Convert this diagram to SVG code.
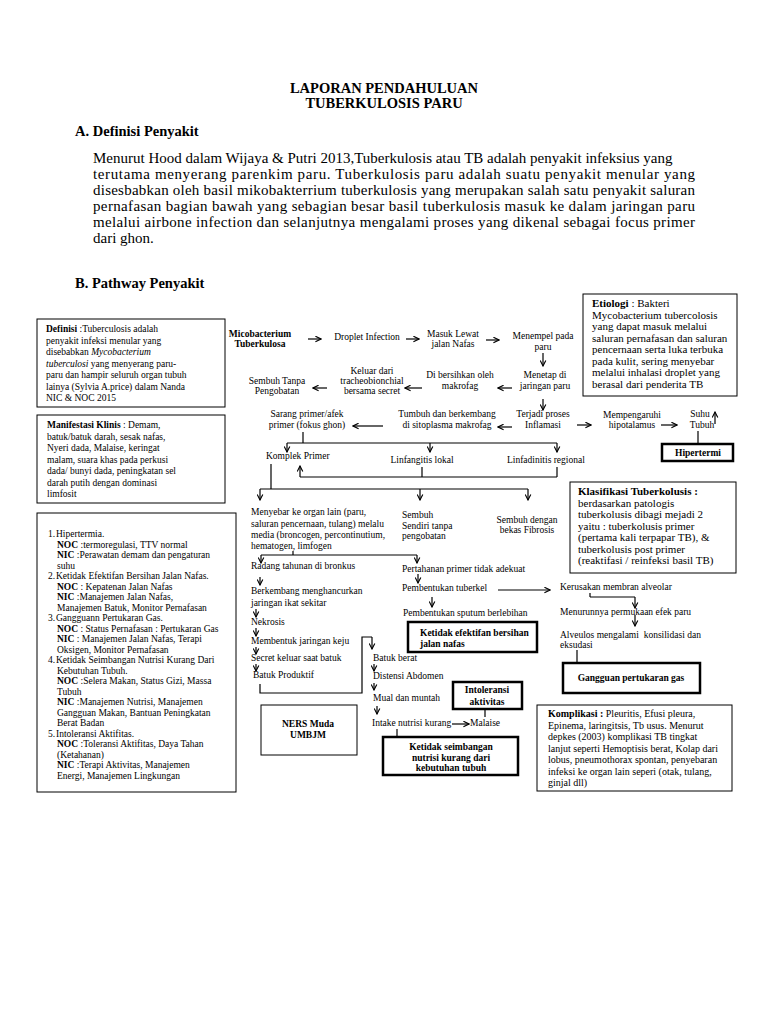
<svg xmlns="http://www.w3.org/2000/svg" width="768" height="1024" viewBox="0 0 768 1024">
<style>
text{font-family:"Liberation Serif","Times New Roman",serif;fill:#000}
.h{font-size:14.5px;font-weight:bold}
.p{font-size:15px}
.t{font-size:9.5px}
.r{font-size:10px}
.e{font-size:11px}
.m{text-anchor:middle}
.b{font-weight:bold}
.i{font-style:italic}
.box{fill:#fff;stroke:#000;stroke-width:1}
.tb{fill:#fff;stroke:#000;stroke-width:2.5}
.ln{fill:none;stroke:#000;stroke-width:1.2}
</style>
<defs>
<marker id="ah" viewBox="0 0 10 10" refX="9" refY="5" markerWidth="7" markerHeight="7" markerUnits="userSpaceOnUse" orient="auto">
<path d="M1,1 L9,5 L1,9" fill="none" stroke="#000" stroke-width="1.6"/>
</marker>
</defs>
<rect width="768" height="1024" fill="#fff"/>

<g id="header">
<text class="h m" x="384" y="93">LAPORAN PENDAHULUAN</text>
<text class="h m" x="384" y="108">TUBERKULOSIS PARU</text>
<text class="h" x="75" y="136">A. Definisi Penyakit</text>
<text class="p" x="93" y="163">Menurut Hood dalam Wijaya &amp; Putri 2013,Tuberkulosis atau TB adalah penyakit infeksius yang</text>
<text class="p" x="93" y="179" textLength="602" lengthAdjust="spacing">terutama menyerang parenkim paru. Tuberkulosis paru adalah suatu penyakit menular yang</text>
<text class="p" x="93" y="195" textLength="602" lengthAdjust="spacing">disesbabkan oleh basil mikobakterrium tuberkulosis yang merupakan salah satu penyakit saluran</text>
<text class="p" x="93" y="211" textLength="602" lengthAdjust="spacing">pernafasan bagian bawah yang sebagian besar basil tuberkulosis masuk ke dalam jaringan paru</text>
<text class="p" x="93" y="227" textLength="602" lengthAdjust="spacing">melalui airbone infection dan selanjutnya mengalami proses yang dikenal sebagai focus primer</text>
<text class="p" x="93" y="243">dari ghon.</text>
<text class="h" x="75" y="288">B. Pathway Penyakit</text>
</g>

<g id="connectors">
<line class="ln" x1="308" y1="339" x2="321" y2="339" marker-end="url(#ah)"/>
<line class="ln" x1="406" y1="339" x2="419" y2="339" marker-end="url(#ah)"/>
<line class="ln" x1="486" y1="340" x2="499" y2="340" marker-end="url(#ah)"/>
<line class="ln" x1="543" y1="353" x2="543" y2="366" marker-end="url(#ah)"/>
<line class="ln" x1="512" y1="388" x2="498" y2="388" marker-end="url(#ah)"/>
<line class="ln" x1="422" y1="388" x2="405" y2="388" marker-end="url(#ah)"/>
<line class="ln" x1="327" y1="388" x2="313" y2="388" marker-end="url(#ah)"/>
<line class="ln" x1="543" y1="399" x2="543" y2="410" marker-end="url(#ah)"/>
<line class="ln" x1="512" y1="427" x2="498" y2="427" marker-end="url(#ah)"/>
<line class="ln" x1="383" y1="426" x2="353" y2="426" marker-end="url(#ah)"/>
<line class="ln" x1="577" y1="425" x2="591" y2="425" marker-end="url(#ah)"/>
<line class="ln" x1="661" y1="425" x2="677" y2="425" marker-end="url(#ah)"/>
<line class="ln" x1="715" y1="424" x2="715" y2="412" marker-end="url(#ah)"/>
<line class="ln" x1="698" y1="431" x2="698" y2="444"/>
<line class="ln" x1="303" y1="432" x2="303" y2="443"/>
<line class="ln" x1="287" y1="443" x2="557" y2="443"/>
<line class="ln" x1="287" y1="443" x2="287" y2="452" marker-end="url(#ah)"/>
<line class="ln" x1="430" y1="443" x2="430" y2="452" marker-end="url(#ah)"/>
<line class="ln" x1="557" y1="443" x2="557" y2="452" marker-end="url(#ah)"/>
<line class="ln" x1="422" y1="467" x2="422" y2="477"/>
<line class="ln" x1="557" y1="467" x2="557" y2="477"/>
<line class="ln" x1="300" y1="477" x2="557" y2="477"/>
<line class="ln" x1="300" y1="477" x2="300" y2="466" marker-end="url(#ah)"/>
<line class="ln" x1="271" y1="464" x2="271" y2="489"/>
<line class="ln" x1="260" y1="489" x2="528" y2="489"/>
<line class="ln" x1="260" y1="489" x2="260" y2="500" marker-end="url(#ah)"/>
<line class="ln" x1="420" y1="489" x2="420" y2="500" marker-end="url(#ah)"/>
<line class="ln" x1="528" y1="489" x2="528" y2="500" marker-end="url(#ah)"/>
<line class="ln" x1="293" y1="551" x2="293" y2="555"/>
<line class="ln" x1="261" y1="555" x2="417" y2="555"/>
<line class="ln" x1="261" y1="555" x2="261" y2="563" marker-end="url(#ah)"/>
<line class="ln" x1="417" y1="555" x2="417" y2="563" marker-end="url(#ah)"/>
<line class="ln" x1="260" y1="577" x2="260" y2="585" marker-end="url(#ah)"/>
<line class="ln" x1="418" y1="574" x2="418" y2="583" marker-end="url(#ah)"/>
<line class="ln" x1="498" y1="590" x2="550" y2="590" marker-end="url(#ah)"/>
<line class="ln" x1="432" y1="597" x2="432" y2="607" marker-end="url(#ah)"/>
<line class="ln" x1="590" y1="593" x2="590" y2="597"/>
<line class="ln" x1="590" y1="597" x2="635" y2="597"/>
<line class="ln" x1="635" y1="597" x2="635" y2="608" marker-end="url(#ah)"/>
<line class="ln" x1="635" y1="615" x2="635" y2="626" marker-end="url(#ah)"/>
<line class="ln" x1="577" y1="650" x2="577" y2="663"/>
<line class="ln" x1="256" y1="609" x2="256" y2="617" marker-end="url(#ah)"/>
<line class="ln" x1="256" y1="628" x2="256" y2="636" marker-end="url(#ah)"/>
<line class="ln" x1="256" y1="647" x2="256" y2="654" marker-end="url(#ah)"/>
<line class="ln" x1="256" y1="664" x2="256" y2="671" marker-end="url(#ah)"/>
<polyline class="ln" points="260,684 260,693 362,693 362,637 372,637"/>
<line class="ln" x1="372" y1="637" x2="372" y2="649" marker-end="url(#ah)"/>
<line class="ln" x1="374" y1="664" x2="374" y2="671" marker-end="url(#ah)"/>
<line class="ln" x1="374" y1="683" x2="374" y2="690" marker-end="url(#ah)"/>
<line class="ln" x1="377" y1="706" x2="377" y2="714" marker-end="url(#ah)"/>
<line class="ln" x1="452" y1="724" x2="469" y2="724" marker-end="url(#ah)"/>
<line class="ln" x1="397" y1="729" x2="397" y2="737"/>
<line class="ln" x1="485" y1="709" x2="485" y2="717"/>
</g>

<g id="definisi">
<rect class="box" x="37" y="319" width="188" height="88"/>
<text class="t" x="46" y="332"><tspan class="b">Definisi</tspan> :Tuberculosis adalah</text>
<text class="t" x="46" y="343.5">penyakit infeksi menular yang</text>
<text class="t" x="46" y="355">disebabkan <tspan class="i">Mycobacterium</tspan></text>
<text class="t" x="46" y="366.5"><tspan class="i">tuberculosi</tspan> yang menyerang paru-</text>
<text class="t" x="46" y="378">paru dan hampir seluruh organ tubuh</text>
<text class="t" x="46" y="389.5">lainya (Sylvia A.price) dalam Nanda</text>
<text class="t" x="46" y="401">NIC &amp; NOC 2015</text>
</g>

<g id="manifestasi">
<rect class="box" x="37" y="415" width="188" height="88"/>
<text class="t" x="47" y="428"><tspan class="b">Manifestasi Klinis</tspan> : Demam,</text>
<text class="t" x="47" y="439.5">batuk/batuk darah, sesak nafas,</text>
<text class="t" x="47" y="451">Nyeri dada, Malaise, keringat</text>
<text class="t" x="47" y="462.5">malam, suara khas pada perkusi</text>
<text class="t" x="47" y="474">dada/ bunyi dada, peningkatan sel</text>
<text class="t" x="47" y="485.5">darah putih dengan dominasi</text>
<text class="t" x="47" y="497">limfosit</text>
</g>

<g id="diagnosa">
<rect class="box" x="37" y="513" width="199" height="279"/>
<text class="t" x="48" y="537">1.</text><text class="t" x="56" y="537">Hipertermia.</text>
<text class="t" x="57" y="547.5"><tspan class="b">NOC</tspan>  :termoregulasi, TTV normal</text>
<text class="t" x="57" y="558"><tspan class="b">NIC</tspan>   :Perawatan demam dan pengaturan</text>
<text class="t" x="57" y="568.5">suhu</text>
<text class="t" x="48" y="579">2.</text><text class="t" x="56" y="579">Ketidak Efektifan Bersihan Jalan Nafas.</text>
<text class="t" x="57" y="589.5"><tspan class="b">NOC</tspan>  : Kepatenan Jalan Nafas</text>
<text class="t" x="57" y="600"><tspan class="b">NIC</tspan>   :Manajemen Jalan Nafas,</text>
<text class="t" x="57" y="610.5">Manajemen Batuk, Monitor Pernafasan</text>
<text class="t" x="48" y="621">3.</text><text class="t" x="56" y="621">Gangguann Pertukaran Gas.</text>
<text class="t" x="57" y="631.5"><tspan class="b">NOC</tspan>  : Status Pernafasan : Pertukaran Gas</text>
<text class="t" x="57" y="642"><tspan class="b">NIC</tspan>   : Manajemen Jalan Nafas, Terapi</text>
<text class="t" x="57" y="652.5">Oksigen, Monitor Pernafasan</text>
<text class="t" x="48" y="663">4.</text><text class="t" x="56" y="663">Ketidak Seimbangan Nutrisi Kurang Dari</text>
<text class="t" x="57" y="673.5">Kebutuhan Tubuh.</text>
<text class="t" x="57" y="684"><tspan class="b">NOC</tspan>  :Selera Makan, Status Gizi, Massa</text>
<text class="t" x="57" y="694.5">Tubuh</text>
<text class="t" x="57" y="705"><tspan class="b">NIC</tspan>   :Manajemen Nutrisi, Manajemen</text>
<text class="t" x="57" y="715.5">Gangguan Makan, Bantuan Peningkatan</text>
<text class="t" x="57" y="726">Berat Badan</text>
<text class="t" x="48" y="736.5">5.</text><text class="t" x="56" y="736.5">Intoleransi Aktifitas.</text>
<text class="t" x="57" y="747"><tspan class="b">NOC</tspan>  :Toleransi Aktifitas, Daya Tahan</text>
<text class="t" x="57" y="757.5">(Ketahanan)</text>
<text class="t" x="57" y="768"><tspan class="b">NIC</tspan>   :Terapi Aktivitas, Manajemen</text>
<text class="t" x="57" y="778.5">Energi, Manajemen Lingkungan</text>
</g>

<g id="etiologi">
<rect class="box" x="583" y="294" width="154" height="102"/>
<text class="e" x="592" y="307"><tspan class="b">Etiologi</tspan> : Bakteri</text>
<text class="e" x="592" y="318.5">Mycobacterium tubercolosis</text>
<text class="e" x="592" y="330">yang dapat masuk melalui</text>
<text class="e" x="592" y="341.5">saluran pernafasan dan saluran</text>
<text class="e" x="592" y="353">pencernaan serta luka terbuka</text>
<text class="e" x="592" y="364.5">pada kulit, sering menyebar</text>
<text class="e" x="592" y="376">melalui inhalasi droplet yang</text>
<text class="e" x="592" y="387.5">berasal dari penderita TB</text>
</g>

<g id="n-mico"><text class="t m b" x="260" y="337">Micobacterium</text><text class="t m b" x="260" y="347">Tuberkulosa</text></g>
<g id="n-droplet"><text class="t m" x="367" y="340">Droplet Infection</text></g>
<g id="n-masuk"><text class="t m" x="453" y="337">Masuk Lewat</text><text class="t m" x="453" y="347">jalan Nafas</text></g>
<g id="n-menempel"><text class="t m" x="543" y="339">Menempel pada</text><text class="t m" x="543" y="350">paru</text></g>
<g id="n-menetap"><text class="t m" x="545" y="378">Menetap di</text><text class="t m" x="545" y="389">jaringan paru</text></g>
<g id="n-bersihkan"><text class="t m" x="460" y="378">Di bersihkan oleh</text><text class="t m" x="460" y="389">makrofag</text></g>
<g id="n-keluar"><text class="t m" x="372" y="374">Keluar dari</text><text class="t m" x="372" y="384">tracheobionchial</text><text class="t m" x="372" y="394">bersama secret</text></g>
<g id="n-sembuh1"><text class="t m" x="277" y="384">Sembuh Tanpa</text><text class="t m" x="277" y="394">Pengobatan</text></g>
<g id="n-inflamasi"><text class="t m" x="543" y="417">Terjadi proses</text><text class="t m" x="543" y="428">Inflamasi</text></g>
<g id="n-tumbuh"><text class="t m" x="447" y="417">Tumbuh dan berkembang</text><text class="t m" x="447" y="428">di sitoplasma makrofag</text></g>
<g id="n-sarang"><text class="t m" x="307" y="417">Sarang primer/afek</text><text class="t m" x="307" y="428">primer (fokus ghon)</text></g>
<g id="n-hipotalamus"><text class="t m" x="632" y="418">Mempengaruhi</text><text class="t m" x="632" y="428">hipotalamus</text></g>
<g id="n-suhu"><text class="t m" x="700" y="417">Suhu</text><text class="t m" x="702" y="428">Tubuh</text></g>
<g id="n-hipertermi"><rect class="tb" x="662" y="444" width="71" height="17"/><text class="t m b" x="698" y="456">Hipertermi</text></g>
<g id="n-komplek"><text class="t" x="266" y="459">Komplek Primer</text></g>
<g id="n-linfangitis"><text class="t m" x="422" y="463">Linfangitis lokal</text></g>
<g id="n-linfadinitis"><text class="t" x="507" y="463">Linfadinitis regional</text></g>

<g id="klasifikasi">
<rect class="box" x="570" y="482" width="166" height="91"/>
<text class="e" x="578" y="495"><tspan class="b">Klasifikasi Tuberkolusis :</tspan></text>
<text class="e" x="578" y="506.5">berdasarkan patologis</text>
<text class="e" x="578" y="518">tuberkolusis dibagi mejadi 2</text>
<text class="e" x="578" y="529.5">yaitu : tuberkolusis primer</text>
<text class="e" x="578" y="541">(pertama kali terpapar TB), &amp;</text>
<text class="e" x="578" y="552.5">tuberkolusis post primer</text>
<text class="e" x="578" y="564">(reaktifasi / reinfeksi  basil TB)</text>
</g>

<g id="n-menyebar">
<text class="t" x="251" y="515">Menyebar ke organ lain (paru,</text>
<text class="t" x="251" y="526.5">saluran pencernaan, tulang) melalu</text>
<text class="t" x="251" y="538">media (broncogen, percontinutium,</text>
<text class="t" x="251" y="549">hematogen, limfogen</text>
</g>
<g id="n-sembuh2"><text class="t" x="402" y="518">Sembuh</text><text class="t" x="402" y="528.5">Sendiri tanpa</text><text class="t" x="402" y="539">pengobatan</text></g>
<g id="n-fibrosis"><text class="t m" x="527" y="523">Sembuh dengan</text><text class="t m" x="527" y="533">bekas Fibrosis</text></g>
<g id="n-radang"><text class="t" x="251" y="569">Radang tahunan di bronkus</text></g>
<g id="n-pertahanan"><text class="t" x="402" y="572">Pertahanan primer tidak adekuat</text></g>
<g id="n-berkembang"><text class="t" x="251" y="594">Berkembang menghancurkan</text><text class="t" x="251" y="606">jaringan ikat sekitar</text></g>
<g id="n-tuberkel"><text class="t" x="402" y="591">Pembentukan tuberkel</text></g>
<g id="n-kerusakan"><text class="t" x="560" y="590">Kerusakan membran alveolar</text></g>
<g id="n-sputum"><text class="t" x="403" y="616">Pembentukan sputum berlebihan</text></g>
<g id="n-bersihan"><rect class="tb" x="408" y="622" width="129" height="30"/><text class="t b" x="420" y="636">Ketidak efektifan bersihan</text><text class="t b" x="420" y="647">jalan nafas</text></g>
<g id="n-menurunnya"><text class="t" x="560" y="615">Menurunnya permukaan efek paru</text></g>
<g id="n-alveulos"><text class="t" x="560" y="638">Alveulos mengalami&#160; konsilidasi dan</text><text class="t" x="560" y="648">eksudasi</text></g>
<g id="n-gas"><rect class="tb" x="563" y="663" width="137" height="30"/><text class="t m b" x="631" y="681">Gangguan pertukaran gas</text></g>
<g id="n-nekrosis"><text class="t" x="251" y="625">Nekrosis</text></g>
<g id="n-keju"><text class="t" x="251" y="644">Membentuk jaringan keju</text></g>
<g id="n-secret"><text class="t" x="251" y="661">Secret keluar saat batuk</text></g>
<g id="n-produktif"><text class="t" x="253" y="678">Batuk Produktif</text></g>
<g id="n-batukberat"><text class="t" x="373" y="661">Batuk berat</text></g>
<g id="n-distensi"><text class="t" x="373" y="679">Distensi Abdomen</text></g>
<g id="n-mual"><text class="t" x="373" y="701">Mual dan muntah</text></g>
<g id="n-intake"><text class="t" x="372" y="726">Intake nutrisi kurang</text></g>
<g id="n-malaise"><text class="t" x="470" y="726">Malaise</text></g>
<g id="n-intoleransi"><rect class="tb" x="453" y="682" width="69" height="27"/><text class="t m b" x="487" y="693">Intoleransi</text><text class="t m b" x="487" y="705">aktivitas</text></g>
<g id="n-nutrisi"><rect class="tb" x="383" y="737" width="135" height="38"/><text class="t m b" x="451" y="750">Ketidak seimbangan</text><text class="t m b" x="451" y="761">nutrisi kurang dari</text><text class="t m b" x="451" y="771">kebutuhan tubuh</text></g>
<g id="ners"><rect class="box" x="261" y="705" width="96" height="50"/><text class="t m b" x="308" y="727">NERS Muda</text><text class="t m b" x="308" y="738">UMBJM</text></g>

<g id="komplikasi">
<rect class="box" x="537" y="705" width="195" height="86"/>
<text class="r" x="548" y="717"><tspan class="b">Komplikasi :</tspan> Pleuritis, Efusi pleura,</text>
<text class="r" x="548" y="728.5">Epinema, laringitsis, Tb usus. Menurut</text>
<text class="r" x="548" y="740">depkes (2003) komplikasi TB tingkat</text>
<text class="r" x="548" y="751.5">lanjut seperti Hemoptisis berat, Kolap dari</text>
<text class="r" x="548" y="763">lobus, pneumothorax spontan, penyebaran</text>
<text class="r" x="548" y="774.5">infeksi ke organ lain seperi (otak, tulang,</text>
<text class="r" x="548" y="786">ginjal dll)</text>
</g>
</svg>
